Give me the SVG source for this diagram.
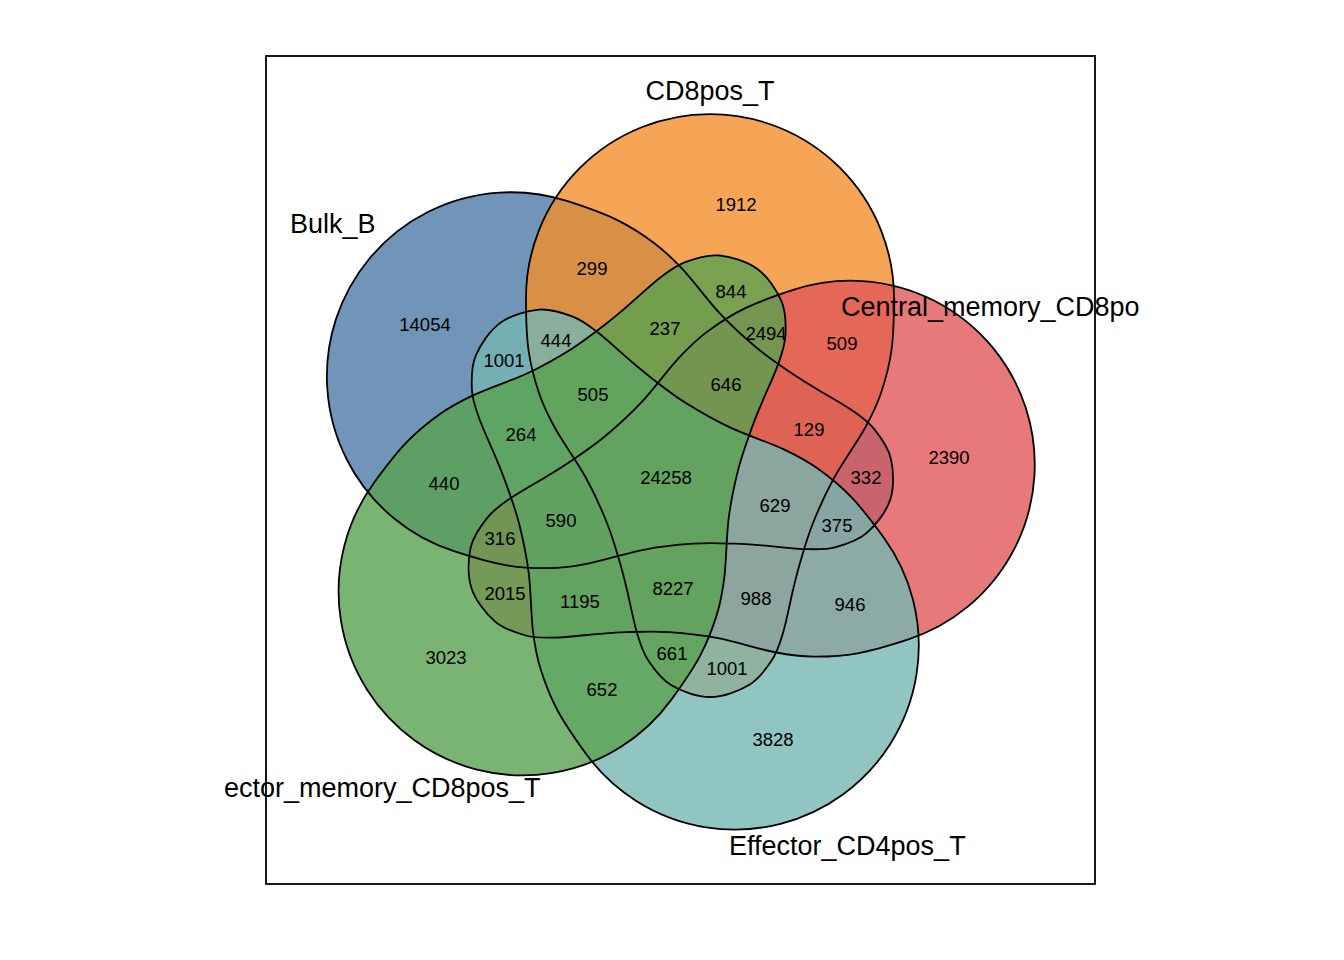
<svg xmlns="http://www.w3.org/2000/svg" xmlns:xlink="http://www.w3.org/1999/xlink" width="1344" height="960" viewBox="0 0 1344 960">
<style>
.lbl{font-family:"Liberation Sans",Arial,sans-serif;font-size:27px;fill:#000}
.cnt{font-family:"Liberation Sans",Arial,sans-serif;font-size:18.5px;fill:#000;text-anchor:middle}
.edge{fill:none;stroke:#000;stroke-width:1.8}
.f{fill-opacity:0.8;stroke:none}
</style>
<defs>
<path id="petal" d="M526,298 A184,184 0 0 1 894,298 C894,315 893.7,334.2 891.5,350 C889.3,365.8 885.4,380 881,393 C876.7,406 872.8,413.8 865,428 C857.2,442.2 842.7,462.2 834,478 C825.3,493.8 818.7,508.8 813,523 C807.3,537.2 803.3,551.8 800,563 C796.7,574.2 795.8,578.3 793,590 C790.2,601.7 786.5,621.3 783,633 C779.5,644.7 777.7,651.3 772,660 C766.3,668.7 759.3,678.8 749,685 C738.7,691.2 723,697 710,697 C697,697 681.3,691.2 671,685 C660.7,678.8 653.7,668.7 648,660 C642.3,651.3 640.5,644.7 637,633 C633.5,621.3 629.8,601.7 627,590 C624.2,578.3 623.3,574.2 620,563 C616.7,551.8 612.7,537.2 607,523 C601.3,508.8 594.7,493.8 586,478 C577.3,462.2 562.8,442.2 555,428 C547.2,413.8 543.3,406 539,393 C534.6,380 530.7,365.8 528.5,350 C526.3,334.2 526,315 526,298 Z"/>
</defs>
<rect x="0" y="0" width="1344" height="960" fill="#fff"/>
<g id="Bulk_B"><use xlink:href="#petal" href="#petal" class="f" fill="#4E79A7" transform="translate(0,-2) rotate(288 665.6 475.2)"/></g>
<g id="CD8pos_T"><use xlink:href="#petal" href="#petal" class="f" fill="#F28E2B"/></g>
<g id="Central_memory_CD8pos_T"><use xlink:href="#petal" href="#petal" class="f" fill="#E15759" transform="translate(3,2) rotate(72 665.6 475.2)"/></g>
<g id="Effector_CD4pos_T"><use xlink:href="#petal" href="#petal" class="f" fill="#76B7B2" transform="translate(1,1) rotate(144 665.6 475.2)"/></g>
<g id="Effector_memory_CD8pos_T"><use xlink:href="#petal" href="#petal" class="f" fill="#59A14F" transform="translate(-3,-1) rotate(216 665.6 475.2)"/></g>
<g id="outlines">
<use xlink:href="#petal" href="#petal" class="edge" transform="translate(0,-2) rotate(288 665.6 475.2)"/>
<use xlink:href="#petal" href="#petal" class="edge"/>
<use xlink:href="#petal" href="#petal" class="edge" transform="translate(3,2) rotate(72 665.6 475.2)"/>
<use xlink:href="#petal" href="#petal" class="edge" transform="translate(1,1) rotate(144 665.6 475.2)"/>
<use xlink:href="#petal" href="#petal" class="edge" transform="translate(-3,-1) rotate(216 665.6 475.2)"/>
</g>
<g id="counts">
<text class="cnt" x="736" y="211">1912</text>
<text class="cnt" x="592" y="275">299</text>
<text class="cnt" x="731" y="298">844</text>
<text class="cnt" x="425" y="331">14054</text>
<text class="cnt" x="665" y="335">237</text>
<text class="cnt" x="766" y="340">2494</text>
<text class="cnt" x="842" y="350">509</text>
<text class="cnt" x="556" y="347">444</text>
<text class="cnt" x="504" y="367">1001</text>
<text class="cnt" x="726" y="391">646</text>
<text class="cnt" x="593" y="401">505</text>
<text class="cnt" x="809" y="436">129</text>
<text class="cnt" x="521" y="441">264</text>
<text class="cnt" x="949" y="464">2390</text>
<text class="cnt" x="666" y="484">24258</text>
<text class="cnt" x="866" y="484">332</text>
<text class="cnt" x="444" y="490">440</text>
<text class="cnt" x="775" y="512">629</text>
<text class="cnt" x="837" y="532">375</text>
<text class="cnt" x="561" y="527">590</text>
<text class="cnt" x="500" y="545">316</text>
<text class="cnt" x="673" y="595">8227</text>
<text class="cnt" x="505" y="600">2015</text>
<text class="cnt" x="580" y="608">1195</text>
<text class="cnt" x="756" y="605">988</text>
<text class="cnt" x="850" y="611">946</text>
<text class="cnt" x="672" y="660">661</text>
<text class="cnt" x="727" y="675">1001</text>
<text class="cnt" x="446" y="664">3023</text>
<text class="cnt" x="602" y="696">652</text>
<text class="cnt" x="773" y="746">3828</text>
</g>
<g id="labels">
<text class="lbl" x="710" y="100" text-anchor="middle">CD8pos_T</text>
<text class="lbl" x="290" y="233">Bulk_B</text>
<text class="lbl" x="841" y="316">Central_memory_CD8po</text>
<text class="lbl" x="224" y="797">ector_memory_CD8pos_T</text>
<text class="lbl" x="729" y="855">Effector_CD4pos_T</text>
</g>
<rect x="266" y="56" width="829" height="828" fill="none" stroke="#000" stroke-width="1.8"/>
</svg>
